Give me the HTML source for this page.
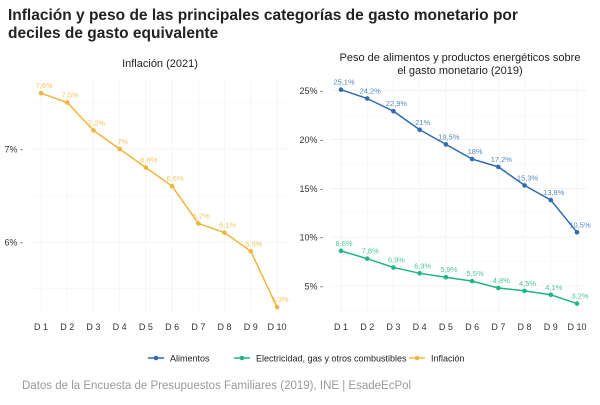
<!DOCTYPE html>
<html><head><meta charset="utf-8"><style>
body{margin:0;background:#fff;font-family:"Liberation Sans",sans-serif;}
svg text{font-family:"Liberation Sans",sans-serif;}
</style></head><body>
<svg width="600" height="400" id="c">
<text x="8" y="20" font-size="15.5" font-weight="bold" fill="#222">Inflación y peso de las principales categorías de gasto monetario por</text>
<text x="8" y="38" font-size="15.5" font-weight="bold" fill="#222">deciles de gasto equivalente</text>
<text x="160" y="67" font-size="11" text-anchor="middle" fill="#222">Inflación (2021)</text>
<text x="460" y="61" font-size="11" text-anchor="middle" fill="#222">Peso de alimentos y productos energéticos sobre</text>
<text x="460" y="74" font-size="11" text-anchor="middle" fill="#222">el gasto monetario (2019)</text>
<g id="left"></g><g id="right"></g>
<g>
<line x1="148" y1="358" x2="164" y2="358" stroke="#2e6bb0" stroke-width="1.5"/><circle cx="156" cy="358" r="2.3" fill="#2e6bb0"/>
<text x="170" y="361.5" font-size="9" fill="#222">Alimentos</text>
<line x1="234" y1="358" x2="250" y2="358" stroke="#1fb589" stroke-width="1.5"/><circle cx="242" cy="358" r="2.3" fill="#1fb589"/>
<text x="256" y="361.5" font-size="9" fill="#222">Electricidad, gas y otros combustibles</text>
<line x1="409" y1="358" x2="425" y2="358" stroke="#f2b53b" stroke-width="1.5"/><circle cx="417" cy="358" r="2.3" fill="#f2b53b"/>
<text x="431" y="361.5" font-size="9" fill="#222">Inflación</text>
</g>
<text x="22" y="389" font-size="11.5" fill="#999">Datos de la Encuesta de Presupuestos Familiares (2019), INE | EsadeEcPol</text>
</svg>
<script>
const categories=["D 1","D 2","D 3","D 4","D 5","D 6","D 7","D 8","D 9","D 10"];
const inflacion=[7.6,7.5,7.2,7.0,6.8,6.6,6.2,6.1,5.9,5.3];
const inflacionLabels=["7,6%","7,5%","7,2%","7%","6,8%","6,6%","6,2%","6,1%","5,9%","5,3%"];
const alimentos=[25.1,24.2,22.9,21.0,19.5,18.0,17.2,15.3,13.8,10.5];
const alimentosLabels=["25,1%","24,2%","22,9%","21%","19,5%","18%","17,2%","15,3%","13,8%","10,5%"];
const energia=[8.6,7.8,6.9,6.3,5.9,5.5,4.8,4.5,4.1,3.2];
const energiaLabels=["8,6%","7,8%","6,9%","6,3%","5,9%","5,5%","4,8%","4,5%","4,1%","3,2%"];
const leftTicks=[6,7];
const leftMinor=[5.5,6.5,7.5];
const rightTicks=[5,10,15,20,25];
const rightMinor=[2.5,7.5,12.5,17.5,22.5];
const NS="http://www.w3.org/2000/svg";
function el(p,t,a){const e=document.createElementNS(NS,t);for(const k in a)e.setAttribute(k,a[k]);p.appendChild(e);return e;}
function panel(g,x0,x1,top,bot,v0,v1,ticks,minor,series){
  const xs=i=>x0+(x1-x0)*i/(categories.length-1);
  const ys=v=>top+(bot-top)*(v1-v)/(v1-v0);
  const L=x0-10,R=x1+10,PT=78,PB=314;
  minor.forEach(t=>{
    const y=ys(t);
    if(y<PT||y>PB)return;
    const gl=el(g,'line',{x1:L,x2:R,y1:y,y2:y,stroke:'#f4f4f4','stroke-width':0.5});
    
    
  });
  ticks.forEach(t=>{
    const y=ys(t);
    const gl=el(g,'line',{x1:L,x2:R,y1:y,y2:y,stroke:'#ebebeb','stroke-width':0.6});
    
    
    const tx=el(g,'text',{x:L-8,y:y+3.5,'font-size':9,'text-anchor':'end',fill:'#333'});
    tx.textContent=t+'% -';
    
    
  });
  categories.forEach((c,i)=>{
    const vl=el(g,'line',{x1:xs(i),x2:xs(i),y1:PT,y2:PB,stroke:'#f0f0f0','stroke-width':0.6});
    
    
    const tx=el(g,'text',{x:xs(i),y:330,'font-size':9,'text-anchor':'middle',fill:'#333'});
    tx.textContent=c;
    
    
  });
  series.forEach(s=>{
    const pts=s.v.map((v,i)=>xs(i)+','+ys(v)).join(' ');
    const pl=el(g,'polyline',{points:pts,fill:'none',stroke:s.c,'stroke-width':1.5});
    
    
    s.v.forEach((v,i)=>{
      const c=el(g,'circle',{cx:xs(i),cy:ys(v),r:2.3,fill:s.c});
      
      
      const t=el(g,'text',{x:xs(i)+3,y:ys(v)-5,'font-size':7.5,'text-anchor':'middle',fill:s.c,opacity:0.8});
      t.textContent=s.l[i];
      
      
    });
  });
}
panel(document.getElementById('left'),41,277,149,242,6,7,leftTicks,leftMinor,[{v:inflacion,l:inflacionLabels,c:'#f2b53b',n:'inflacion'}]);
panel(document.getElementById('right'),341,577,90.7,286,5,25,rightTicks,rightMinor,[{v:alimentos,l:alimentosLabels,c:'#2e6bb0',n:'alimentos'},{v:energia,l:energiaLabels,c:'#1fb589',n:'electricidad'}]);
</script>
</body></html>
